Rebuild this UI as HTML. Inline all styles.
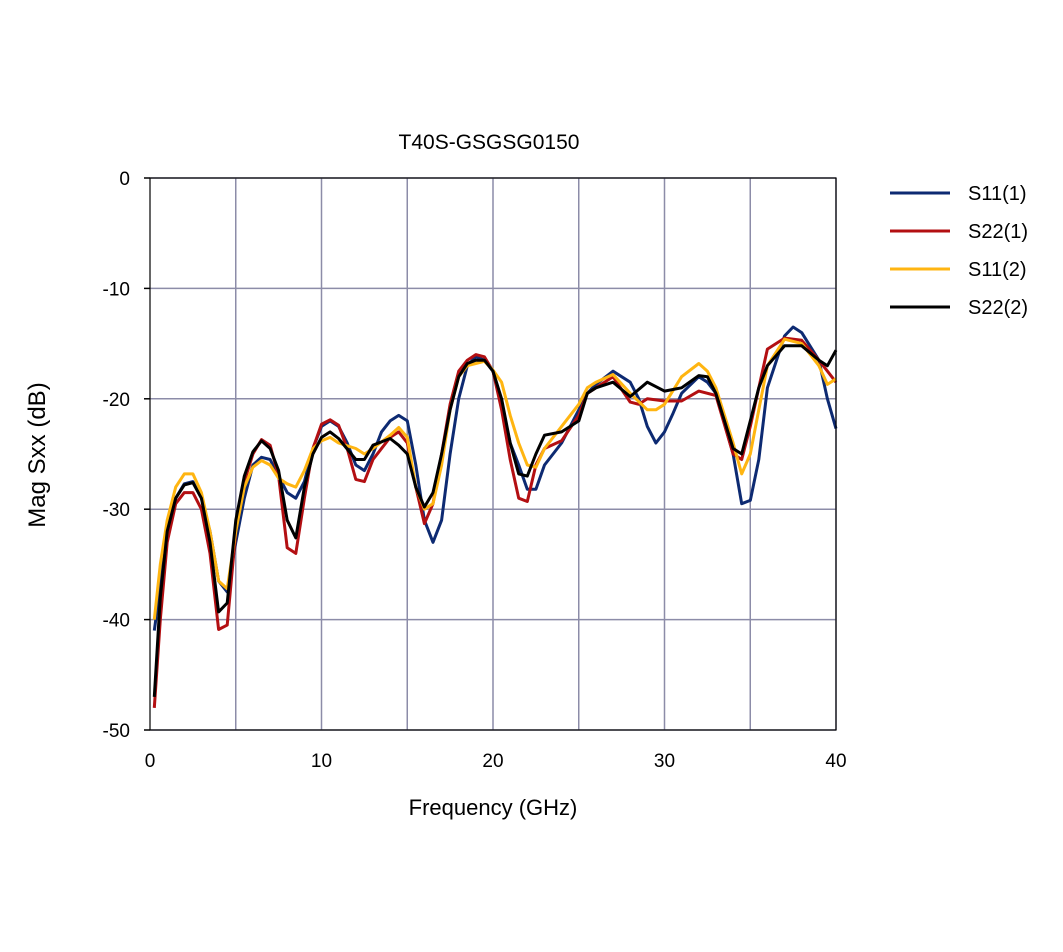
<!DOCTYPE html>
<html><head><meta charset="utf-8"><style>
body{margin:0;background:#fff;font-family:"Liberation Sans",sans-serif}
</style></head><body>
<svg id="chart" width="1063" height="947" xmlns="http://www.w3.org/2000/svg" font-family="Liberation Sans, sans-serif">
<rect width="1063" height="947" fill="#fff"/>
<text x="489" y="149" font-size="21" text-anchor="middle">T40S-GSGSG0150</text>
<g id="grid"></g>
<g id="series"></g>
<g id="axes"></g>
<text x="493" y="815" font-size="22" text-anchor="middle">Frequency (GHz)</text>
<text transform="translate(45,455) rotate(-90)" font-size="24" text-anchor="middle">Mag Sxx (dB)</text>
<g id="legend"></g>
</svg>
<script>
const NS="http://www.w3.org/2000/svg";
const xTicks=[0,10,20,30,40];
const xGrid=[5,10,15,20,25,30,35,40];
const yTicks=[0,-10,-20,-30,-40,-50];
const seriesNames=["S11(1)","S22(1)","S11(2)","S22(2)"];
const seriesColors=["#0d2a72","#b30f12","#ffb511","#000000"];
const f_s11_1=[0.25,0.6,1,1.5,2,2.5,3,3.5,4,4.5,5,5.5,6,6.5,7,7.5,8,8.5,9,9.5,10,10.5,11,11.5,12,12.5,13,13.5,14,14.5,15,15.5,16,16.5,17,17.5,18,18.5,19,19.5,20,20.5,21,21.5,22,22.5,23,24,25,25.5,26,27,28,28.5,29,29.5,30,30.5,31,32,32.5,33,34,34.5,35,35.5,36,37,37.5,38,39,39.5,40];
const v_s11_1=[-41,-37,-32,-29,-27.7,-27.5,-29,-32,-36.5,-37.5,-33,-29,-26,-25.3,-25.5,-27,-28.5,-29,-27.5,-24.5,-22.5,-22,-22.5,-24,-26,-26.5,-25,-23,-22,-21.5,-22,-26,-31,-33,-31,-25,-20,-17,-16.2,-16.5,-17.5,-20.5,-24,-26,-28.2,-28.2,-26,-24,-21,-19.5,-18.7,-17.5,-18.5,-20,-22.5,-24,-23,-21.3,-19.5,-18,-18.5,-19.5,-25,-29.5,-29.2,-25.5,-19,-14.3,-13.5,-14,-16.5,-20,-22.7];
const f_s22_1=[0.25,0.6,1,1.5,2,2.5,3,3.5,4,4.5,5,5.5,6,6.5,7,7.5,8,8.5,9,9.5,10,10.5,11,11.5,12,12.5,13,14,14.5,15,15.5,16,16.5,17,17.5,18,18.5,19,19.5,20,20.5,21,21.5,22,22.5,23,24,25,25.5,26,27,28,28.5,29,30,31,32,33,34,34.5,35,35.5,36,37,38,39,40];
const v_s22_1=[-48,-40,-33,-29.5,-28.5,-28.5,-30,-34,-40.9,-40.5,-32,-27.5,-25,-23.7,-24.2,-27,-33.5,-34,-29,-24.5,-22.3,-21.9,-22.4,-24.5,-27.3,-27.5,-25.5,-23.5,-23,-24,-28,-31.3,-29.5,-25,-20.5,-17.5,-16.5,-16,-16.2,-17.5,-21,-25.5,-29,-29.3,-26,-24.5,-23.8,-21.5,-19.5,-19,-18,-20.3,-20.5,-20,-20.2,-20.2,-19.3,-19.7,-25,-25.5,-22.5,-19,-15.5,-14.5,-14.7,-16.5,-18.5];
const f_s11_2=[0.25,0.6,1,1.5,2,2.5,3,3.5,4,4.5,5,5.5,6,6.5,7,7.5,8,8.5,9,9.5,10,10.5,11,12,12.5,13,14,14.5,15,15.5,16,16.5,17,17.5,18,18.5,19,19.5,20,20.5,21,21.5,22,22.5,23,24,25,25.5,26,27,28,29,29.5,30,31,32,32.5,33,34,34.5,35,35.5,36,37,38,39,39.5,40];
const v_s11_2=[-40,-35,-31,-28,-26.8,-26.8,-28.5,-32,-36.5,-37.2,-32,-28,-26.2,-25.6,-26,-27.2,-27.7,-28,-26.5,-24.5,-23.8,-23.5,-24,-24.5,-25,-24.5,-23.3,-22.6,-23.5,-28,-30,-29.5,-26,-21,-18,-17,-16.8,-16.6,-17.4,-18.5,-21.5,-24,-26,-26.2,-24.5,-22.5,-20.5,-19,-18.5,-17.8,-19.5,-21,-21,-20.5,-18,-16.8,-17.5,-19,-24,-26.8,-25,-21,-17,-14.6,-15,-17,-18.7,-18.2];
const f_s22_2=[0.25,0.6,1,1.5,2,2.5,3,3.5,4,4.5,5,5.5,6,6.5,7,7.5,8,8.5,9,9.5,10,10.5,11,12,12.5,13,14,14.5,15,15.5,16,16.5,17,17.5,18,18.5,19,19.5,20,20.5,21,21.5,22,22.5,23,24,25,25.5,26,27,28,29,30,31,32,32.5,33,34,34.5,35,35.5,36,37,38,39,39.5,40];
const v_s22_2=[-47,-38,-32,-29,-27.8,-27.6,-29,-33,-39.3,-38.5,-31,-27,-24.8,-23.8,-24.5,-26.5,-31,-32.6,-28,-25,-23.5,-23,-23.6,-25.5,-25.5,-24.2,-23.6,-24.2,-25,-28,-29.8,-28.5,-25,-21,-18,-16.8,-16.5,-16.5,-17.5,-20,-24,-26.8,-27,-25,-23.3,-23,-22,-19.5,-19,-18.5,-19.8,-18.5,-19.3,-19,-17.9,-18,-19.5,-24.5,-25,-22,-19,-17,-15.2,-15.2,-16.5,-17,-15.6];
const seriesF=[f_s11_1,f_s22_1,f_s11_2,f_s22_2];
const seriesV=[v_s11_1,v_s22_1,v_s11_2,v_s22_2];

const X0=150,X1=836,Y0=178,Y1=730,xmin=0,xmax=40,ymin=-50,ymax=0;
const sx=v=>X0+(v-xmin)/(xmax-xmin)*(X1-X0);
const sy=v=>Y0+(ymax-v)/(ymax-ymin)*(Y1-Y0);
function mk(tag,attrs,parent){const e=document.createElementNS(NS,tag);for(const k in attrs)e.setAttribute(k,attrs[k]);parent.appendChild(e);return e;}
const grid=document.getElementById('grid'),axes=document.getElementById('axes'),ser=document.getElementById('series'),leg=document.getElementById('legend');
xGrid.forEach(v=>{const l=mk('line',{x1:sx(v),x2:sx(v),y1:Y0,y2:Y1,stroke:'#8c8ca8','stroke-width':1.5},grid);

});
yTicks.forEach(v=>{const l=mk('line',{x1:X0,x2:X1,y1:sy(v),y2:sy(v),stroke:'#8c8ca8','stroke-width':1.5},grid);


const t=mk('line',{x1:X0-6,x2:X0,y1:sy(v),y2:sy(v),stroke:'#000','stroke-width':1.5},axes);


const tx=mk('text',{x:X0-20,y:sy(v)+7,'font-size':19,'text-anchor':'end'},axes);tx.textContent=v;

});
xTicks.forEach(v=>{const tx=mk('text',{x:sx(v),y:Y1+37,'font-size':19,'text-anchor':'middle'},axes);tx.textContent=v;

});
const fr=mk('rect',{x:X0,y:Y0,width:X1-X0,height:Y1-Y0,fill:'none',stroke:'#000','stroke-width':1.2},axes);


seriesNames.forEach((n,i)=>{
 const pts=seriesF[i].map((f,j)=>sx(f).toFixed(1)+','+sy(seriesV[i][j]).toFixed(1)).join(' ');
 const p=mk('polyline',{points:pts,fill:'none',stroke:seriesColors[i],'stroke-width':3,'stroke-linejoin':'round'},ser);
 
 
 const ly=193+i*38;
 const ll=mk('line',{x1:890,x2:950,y1:ly,y2:ly,stroke:seriesColors[i],'stroke-width':3},leg);
 
 
 const lt=mk('text',{x:968,y:ly+7,'font-size':20},leg);lt.textContent=n;
 
 
});
</script>
</body></html>
